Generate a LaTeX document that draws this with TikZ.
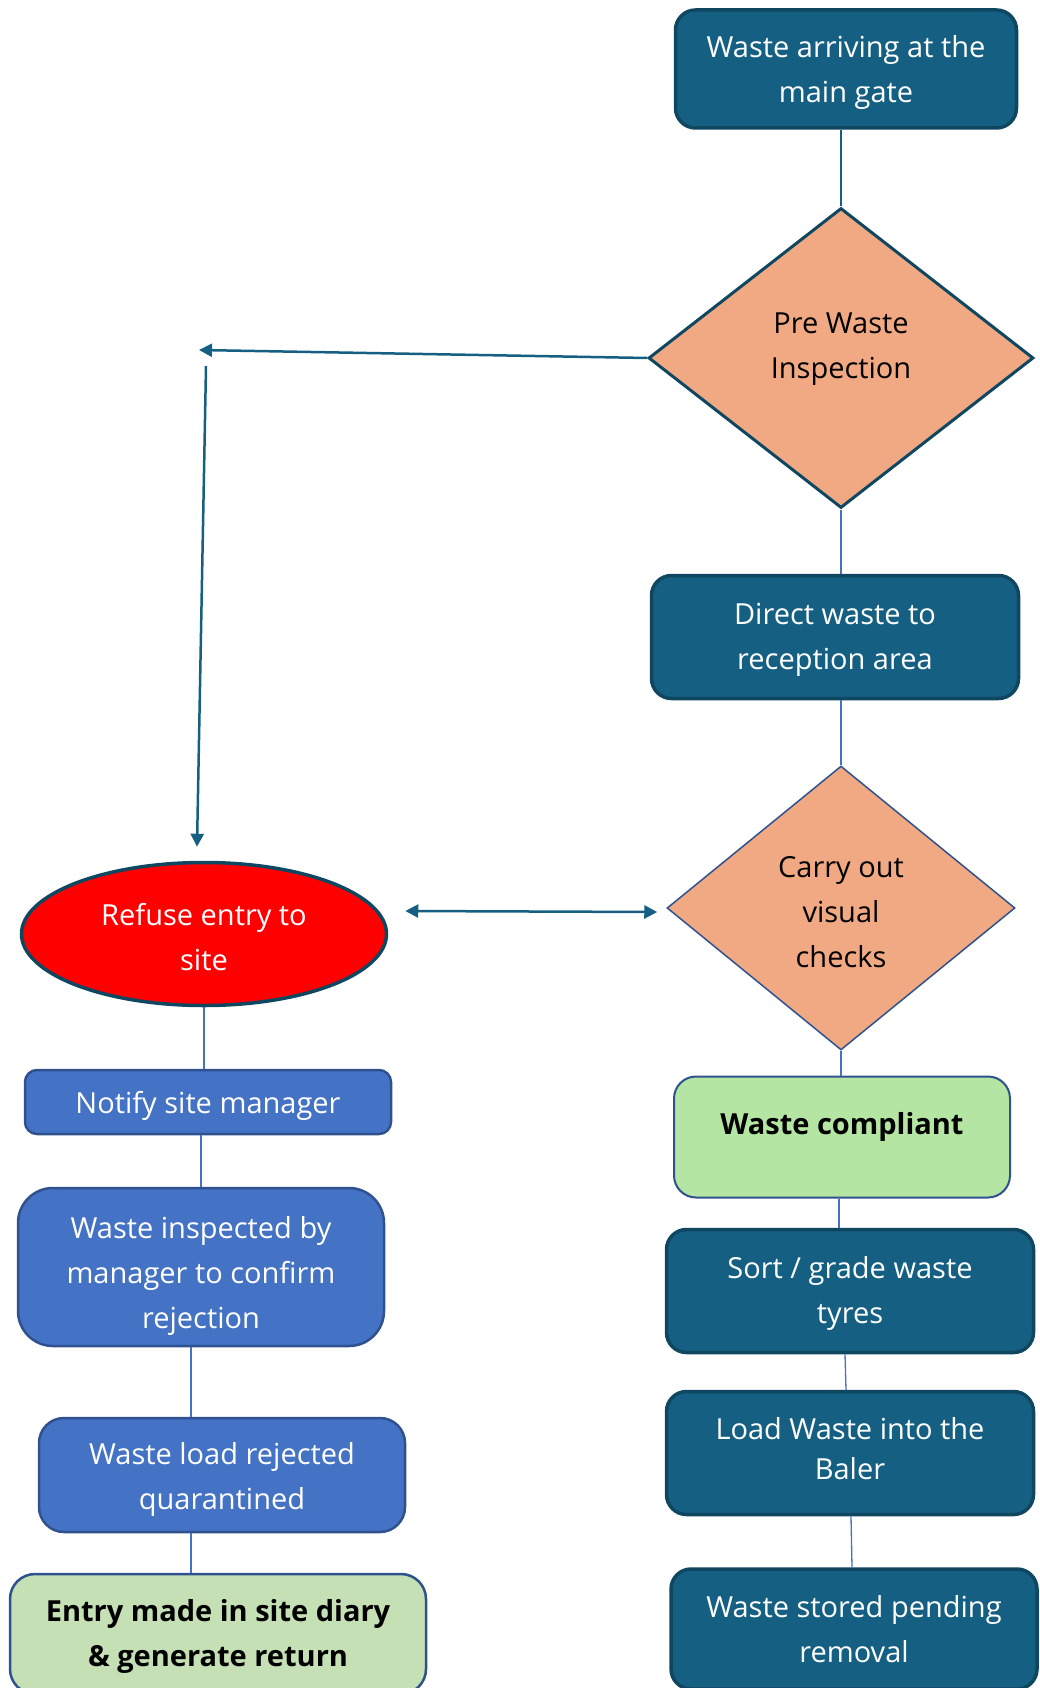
\documentclass[tikz,border=0pt]{standalone}
\usepackage{fontspec}
\setmainfont{Open Sans}
\usepackage{tikz}
\usetikzlibrary{positioning, calc}
\usetikzlibrary{shapes.geometric}
\usetikzlibrary{arrows.meta}

\definecolor{tealfill}{HTML}{156082}
\definecolor{tealedge}{HTML}{0F4761}
\definecolor{peach}{HTML}{F1A983}
\definecolor{boxblue}{HTML}{4472C4}
\definecolor{boxedge}{HTML}{2F528F}
\definecolor{okgreen}{HTML}{B4E5A2}
\definecolor{logreen}{HTML}{C5E0B4}

\newcommand{\flowfont}{\fontsize{29pt}{45pt}\selectfont}
\newcommand{\txtdown}[1]{\rule{0pt}{#1}}
\newcommand{\txtup}[1]{\rule[-#1]{0pt}{#1}}

\tikzset{
  tealbox/.style={draw=tealedge, line width=3.5pt, fill=tealfill, rounded corners=20pt,
    text=white, align=center, font=\flowfont, inner sep=2pt},
  bluebox/.style={draw=boxedge, line width=2.5pt, fill=boxblue, rounded corners=12pt,
    text=white, align=center, font=\flowfont, inner sep=2pt},
  check/.style={diamond, fill=peach, text=black, align=center, font=\flowfont, inner sep=0pt},
  link/.style={draw=boxblue, line width=1.3pt},
  flow/.style={draw=tealfill, line width=2.5pt, -{Triangle[length=13pt,width=13pt]}}
}

\begin{document}
            \begin{tikzpicture}[x=1pt, y=-1pt]
                \useasboundingbox (0,0) rectangle (1040,1688);
                \node (arrive) [tealbox, minimum width=341pt, minimum height=118pt] at (846,69) {\txtdown{28.5pt}Waste arriving at the\\main gate};
                \node (pre) [check, draw=tealedge, line width=3pt, minimum width=385pt, minimum height=300pt] at (841,358) {Pre Waste\\Inspection\txtup{24pt}};
                \node (direct) [tealbox, minimum width=367pt, minimum height=123pt] at (835,637) {\txtdown{26.4pt}Direct waste to\\reception area};
                \node (carry) [check, draw=boxedge, line width=1.5pt, minimum width=348pt, minimum height=284pt] at (841,908) {\txtdown{29pt}Carry out\\visual\\checks};
                \node (refuse) [ellipse, draw=tealedge, line width=3.5pt, fill=red, text=white, align=center, font=\flowfont, minimum width=365pt, minimum height=143pt] at (204,934) {\txtdown{28.5pt}Refuse entry to\\site};
                \node (compliant) [bluebox, fill=okgreen, text=black, font=\flowfont\bfseries, rounded corners=22pt, line width=2pt, minimum width=336pt, minimum height=121pt, text height=22pt, text depth=28pt] at (842,1137) {Waste compliant};
                \node (sort) [tealbox, minimum width=367pt, minimum height=123pt] at (850,1291) {\txtdown{26.4pt}Sort / grade waste\\tyres};
                \node (load) [tealbox, minimum width=367pt, minimum height=123pt] at (850,1453) {Load Waste into the\\[-5pt]Baler\txtup{8.6pt}};
                \node (store) [tealbox, minimum width=366pt, minimum height=120pt] at (854,1629) {Waste stored pending\\removal};
                \node (notify) [bluebox, minimum width=366pt, minimum height=64pt] at (208,1102) {\txtdown{30.6pt}Notify site manager};
                \node (inspected) [bluebox, rounded corners=35pt, minimum width=366pt, minimum height=158pt] at (201,1267) {\txtdown{39pt}Waste inspected by\\manager to confirm\\rejection};
                \node (rejected) [bluebox, rounded corners=25pt, minimum width=366pt, minimum height=114pt] at (222,1475) {\txtdown{30.6pt}Waste load rejected\\quarantined};
                \node (entry) [bluebox, fill=logreen, text=black, font=\flowfont\bfseries, rounded corners=25pt, minimum width=416pt, minimum height=120pt] at (218,1634) {\txtdown{26.4pt}Entry made in site diary\\\& generate return};
                \coordinate (turn) at (199,350);
                \coordinate (drop) at (206,366);
                \draw[draw=tealfill, line width=2.5pt] (pre.north) -- (pre.north |- arrive.south);
                \draw[link] (pre.south) -- (pre.south |- direct.north);
                \draw[link] (carry.north |- direct.south) -- (carry.north);
                \draw[link] (carry.south) -- (carry.south |- compliant.north);
                \draw[link] ([xshift=-3pt]compliant.south) -- ([xshift=-3pt]compliant.south |- sort.north);
                \draw[link] ([xshift=-5pt]sort.south) -- ([xshift=-4pt]load.north);
                \draw[link] ([xshift=1pt]load.south) -- ([xshift=-2pt]store.north);
                \draw[link] (refuse.south) -- (refuse.south |- notify.north);
                \draw[link] (inspected.north |- notify.south) -- (inspected.north);
                \draw[link] ([xshift=-10pt]inspected.south) -- ([xshift=-10pt]inspected.south |- rejected.north);
                \draw[link] ([xshift=-31pt]rejected.south) -- ([xshift=-31pt]rejected.south |- entry.north);
                \draw[flow] (pre.west) -- (turn);
                \draw[flow] (drop) -- ([shift={(-7pt,14pt)}]refuse.north);
                \draw[flow, {Triangle[length=13pt,width=13pt]}-{Triangle[length=13pt,width=13pt]}] ($(refuse.east)+(17,-23)$) -- ($(carry.west)+(-9,4)$);
            \end{tikzpicture}
\end{document}
